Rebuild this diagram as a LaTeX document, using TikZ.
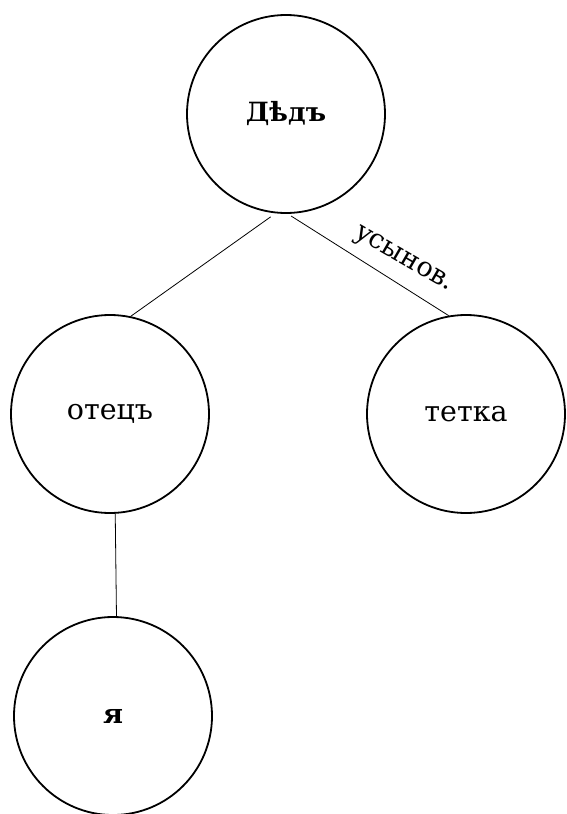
\documentclass[tikz,border=0pt]{standalone}
\usepackage{fontspec}
\setmainfont{DejaVu Serif}
\begin{document}
\begin{tikzpicture}[x=1pt,y=-1pt,
  person/.style={circle, draw, line width=1.8pt, minimum size=198pt, inner sep=0pt,
    font=\fontsize{28.5}{32}\selectfont},
  link/.style={line width=0.8pt},
  lbl/.style={font=\fontsize{27}{30}\selectfont, inner sep=0pt}]
\useasboundingbox (0,0) rectangle (566,814);
\node[person, font=\bfseries\fontsize{26.5}{32}\selectfont] (d) at (286,114) {Дѣдъ};
\node[person] (o) at (110,414) {отецъ};
\node[person] (t) at (466,414) {тетка};
\node[person, font=\bfseries\fontsize{27}{32}\selectfont] (ya) at (113,716) {я};
\draw[link, shorten <=6pt] (d.264) -- (o.78);
\draw[link, shorten <=4pt] (d.271) -- (t.100);
\draw[link] (o.273) -- (ya.88);
\node[lbl, rotate=-30] (u) at (403,260) {усынов.};
\end{tikzpicture}
\end{document}
